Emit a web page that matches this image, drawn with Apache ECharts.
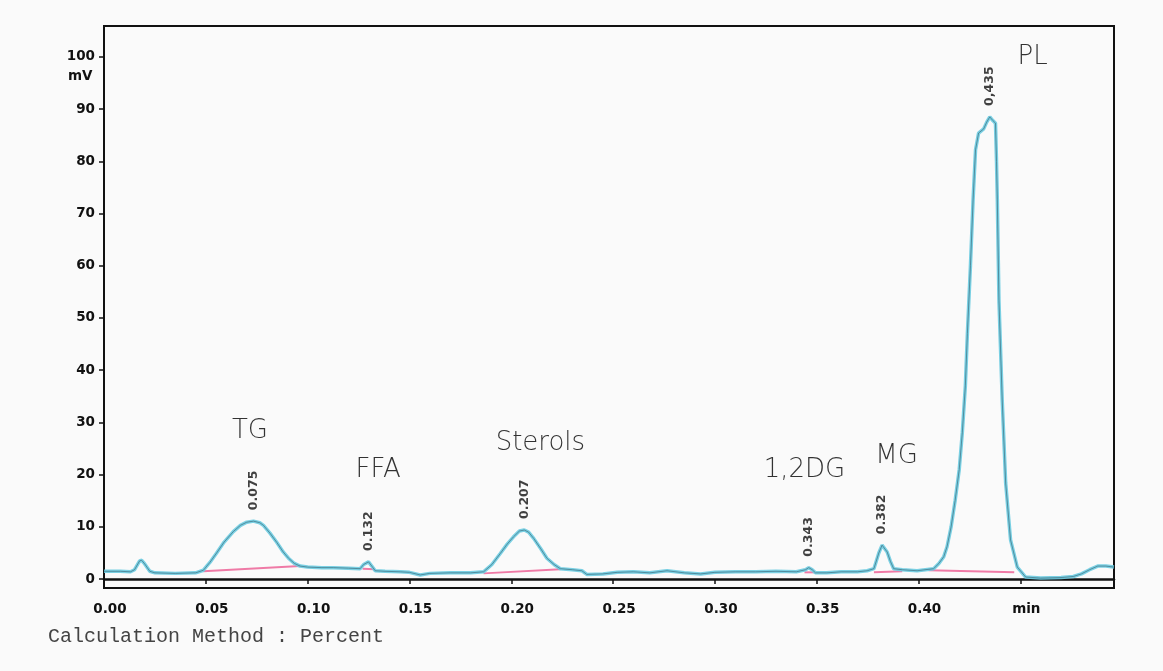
<!DOCTYPE html>
<html>
<head>
<meta charset="utf-8">
<script src="https://cdn.jsdelivr.net/npm/echarts@6/dist/echarts.min.js"></script>
<style>
html, body { margin: 0; padding: 0; background: #fafafa; }
#chart { width: 1163px; height: 671px; }
</style>
</head>
<body>
<div id="chart"></div>
<script>
// detector signal, [time (min), mV]
var trace = [
	[0.000,1.5],[0.008,1.5],[0.013,1.4],[0.015,1.8],[0.0175,3.5],[0.0185,3.6],[0.020,2.9],[0.0225,1.5],
	[0.025,1.2],[0.035,1.1],[0.045,1.2],[0.0488,1.7],[0.052,3.2],[0.0553,5.0],[0.059,7.1],[0.0635,9.1],
	[0.067,10.3],[0.0701,10.9],[0.0734,11.1],[0.0765,10.8],[0.0783,10.3],[0.0815,8.8],[0.0849,7.0],
	[0.088,5.2],[0.0906,4.0],[0.0935,3.0],[0.0963,2.5],[0.100,2.3],[0.107,2.2],[0.1126,2.2],[0.120,2.1],
	[0.1258,2.0],[0.1275,2.8],[0.1299,3.3],[0.1315,2.5],[0.1332,1.6],[0.138,1.5],[0.1455,1.4],[0.150,1.3],
	[0.1553,0.8],[0.160,1.1],[0.170,1.2],[0.180,1.2],[0.1864,1.4],[0.1905,2.8],[0.1946,4.9],[0.198,6.7],
	[0.2011,8.1],[0.204,9.2],[0.2064,9.4],[0.2085,9.0],[0.211,7.8],[0.2145,5.8],[0.2175,4.0],[0.221,2.8],
	[0.2241,2.0],[0.230,1.8],[0.2347,1.6],[0.2371,0.9],[0.245,1.0],[0.252,1.3],[0.260,1.4],[0.268,1.2],
	[0.2765,1.6],[0.285,1.2],[0.293,1.0],[0.300,1.3],[0.310,1.4],[0.320,1.4],[0.330,1.5],[0.340,1.4],
	[0.3445,1.8],[0.3461,2.2],[0.3478,1.8],[0.3494,1.2],[0.355,1.2],[0.362,1.4],[0.370,1.4],[0.3748,1.6],
	[0.3781,2.0],[0.3805,5.0],[0.3821,6.5],[0.3846,5.2],[0.3862,3.4],[0.3878,2.0],[0.392,1.8],[0.3993,1.6],
	[0.4074,2.0],[0.410,3.0],[0.4124,4.3],[0.414,6.2],[0.416,10],[0.418,15.1],[0.420,21],[0.4215,28],
	[0.423,37],[0.424,47],[0.4255,60],[0.4268,72.6],[0.428,82.2],[0.4295,85.4],[0.432,86.2],[0.4335,87.5],
	[0.435,88.5],[0.4365,87.8],[0.4378,87.3],[0.4383,80],[0.4387,72.6],[0.4395,53.4],[0.4411,34.3],
	[0.4428,18.4],[0.4452,7.5],[0.4485,2.3],[0.4526,0.4],[0.460,0.2],[0.470,0.3],[0.476,0.5],[0.480,1.0],
	[0.484,1.8],[0.488,2.5],[0.492,2.5],[0.496,2.3]
];

// integration baselines drawn under the peaks
var baselines = [
	[[0.0488,1.5],[0.0963,2.5]],
	[[0.127,2.0],[0.133,1.9]],
	[[0.1864,1.1],[0.2241,1.9]],
	[[0.344,1.3],[0.349,1.3]],
	[[0.3781,1.3],[0.392,1.5]],
	[[0.405,1.7],[0.447,1.3]]
];

// peak apex (time, mV) and printed retention time
var peakTimes = [0.0734, 0.1299, 0.2064, 0.3461, 0.3821, 0.435];
var peakHeights = [11.1, 3.3, 9.4, 2.2, 6.5, 88.5];
var peakLabels = ['0.075', '0.132', '0.207', '0.343', '0.382', '0,435'];

// hand written compound names
var compoundNames = ['TG', 'FFA', 'Sterols', '1,2DG', 'MG', 'PL'];
var compoundX = [0.0717, 0.1346, 0.2143, 0.3440, 0.3892, 0.4560];
var compoundY = [28.4, 20.9, 26.0, 20.9, 23.6, 100.0];

var xTicks = [0, 0.05, 0.10, 0.15, 0.20, 0.25, 0.30, 0.35, 0.40, 0.45];
var xTickLabels = ['0.00', '0.05', '0.10', '0.15', '0.20', '0.25', '0.30', '0.35', '0.40', 'min'];
var yTicks = [0, 10, 20, 30, 40, 50, 60, 70, 80, 90, 100];

var dom = document.getElementById('chart');
var myChart = echarts.init(dom);

var tickFont = {
	color: '#111',
	fontFamily: 'DejaVu Sans',
	fontWeight: 'bold',
	fontSize: 13.5
};

var series = [];
for (var i = 0; i < baselines.length; i++) {
	series.push({
		type: 'line',
		data: baselines[i],
		symbol: 'none',
		silent: true,
		lineStyle: { color: '#ef7aa6', width: 2 },
		z: 2
	});
}
series.push({
	type: 'line',
	data: trace,
	symbol: 'none',
	silent: true,
	lineStyle: { color: '#6ccbe0', width: 3.5, opacity: 0.9 },
	z: 3
});
series.push({
	type: 'line',
	data: trace,
	symbol: 'none',
	silent: true,
	lineStyle: { color: '#3d6f7f', width: 0.7 },
	z: 4
});

var peakData = [];
for (var i = 0; i < peakTimes.length; i++) {
	peakData.push({ value: [peakTimes[i], peakHeights[i]], name: peakLabels[i] });
}
series.push({
	type: 'scatter',
	data: peakData,
	symbolSize: 0,
	silent: true,
	label: {
		show: true,
		formatter: '{b}',
		position: 'top',
		distance: 11,
		rotate: 90,
		align: 'left',
		verticalAlign: 'middle',
		color: '#111',
		fontFamily: 'DejaVu Sans',
		fontWeight: 'bold',
		fontSize: 12.5
	},
	z: 5
});

var nameData = [];
for (var i = 0; i < compoundNames.length; i++) {
	nameData.push({ value: [compoundX[i], compoundY[i]], name: compoundNames[i] });
}
series.push({
	type: 'scatter',
	data: nameData,
	symbolSize: 0,
	silent: true,
	label: {
		show: true,
		formatter: '{b}',
		position: 'inside',
		color: '#000',
		fontFamily: 'DejaVu Sans',
		fontWeight: 300,
		fontSize: 26
	},
	z: 5
});

var option = {
	backgroundColor: '#fafafa',
	animation: false,
	grid: {
		left: 104,
		right: 49,
		top: 26,
		bottom: 83,
		show: true,
		borderColor: '#111',
		borderWidth: 2,
		backgroundColor: 'transparent'
	},
	xAxis: {
		type: 'value',
		min: 0,
		max: 0.496,
		axisLine: { show: true, lineStyle: { color: '#111', width: 2.5 } },
		axisTick: { show: true, inside: false, length: 5, customValues: xTicks, lineStyle: { color: '#111', width: 1.5 } },
		axisLabel: Object.assign({
			margin: 14,
			padding: [0, 0, 0, 12],
			customValues: xTicks,
			formatter: function (value) {
				for (var k = 0; k < xTicks.length; k++) {
					if (Math.abs(xTicks[k] - value) < 1e-6) return xTickLabels[k];
				}
				return '';
			}
		}, tickFont),
		splitLine: { show: false }
	},
	yAxis: {
		type: 'value',
		min: -1.7,
		max: 105.9,
		axisLine: { show: true, lineStyle: { color: '#111', width: 2 } },
		axisTick: { show: true, inside: false, length: 5, customValues: yTicks, lineStyle: { color: '#111', width: 1.5 } },
		axisLabel: Object.assign({ margin: 9, customValues: yTicks }, tickFont),
		splitLine: { show: false }
	},
	graphic: [
		{
			type: 'text',
			left: 68,
			top: 69,
			style: { text: 'mV', fill: '#111', font: 'bold 13.5px "DejaVu Sans"' }
		},
		{
			type: 'text',
			left: 48,
			top: 627,
			style: { text: 'Calculation Method : Percent', fill: '#444', font: '20px "Liberation Mono"' }
		}
	],
	series: series
};
myChart.setOption(option);
</script>
</body>
</html>
